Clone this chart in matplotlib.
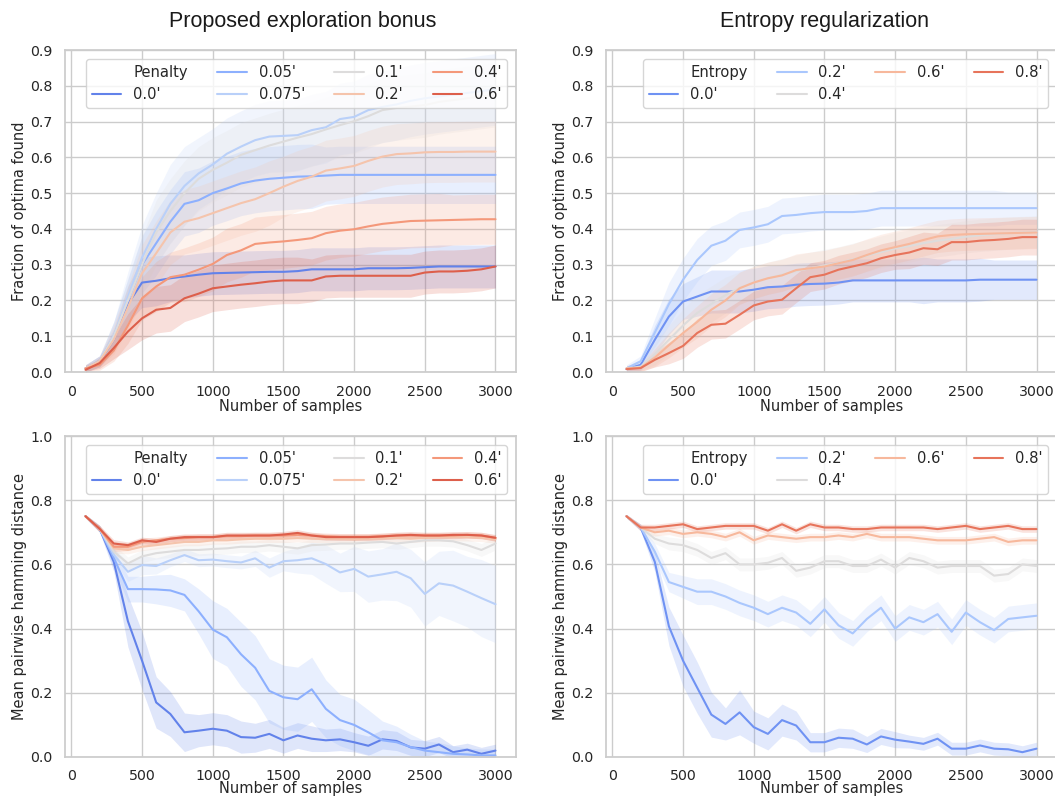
import matplotlib
matplotlib.use("Agg")
import matplotlib.pyplot as plt
import seaborn as sns
from matplotlib.lines import Line2D

sns.set_theme(style="whitegrid")
plt.rcParams['font.family'] = ['DejaVu Sans']

# sample counts on the x axis
samples = [100, 200, 300, 400, 500, 600, 700, 800, 900, 1000,
           1100, 1200, 1300, 1400, 1500, 1600, 1700, 1800, 1900, 2000,
           2100, 2200, 2300, 2400, 2500, 2600, 2700, 2800, 2900, 3000]

penalty_labels = ["0.0'", "0.05'", "0.075'", "0.1'", "0.2'", "0.4'", "0.6'"]
entropy_labels = ["0.0'", "0.2'", "0.4'", "0.6'", "0.8'"]

# ---- fraction of optima found, exploration bonus ----
frac_pen_00 = [.01, .03, .09, .19, .25, .255, .262, .267, .272, .276, .277, .278, .279, .28, .28,
               .282, .287, .287, .287, .287, .29, .29, .29, .291, .293, .295, .295, .295, .295, .295]
frac_pen_05 = [.01, .03, .1, .2, .3, .36, .42, .47, .48, .5, .513, .527, .535, .54, .543,
               .546, .547, .549, .551, .551, .551, .551, .551, .551, .551, .551, .551, .551, .551, .551]
frac_pen_075 = [.01, .03, .1, .21, .32, .4, .47, .52, .555, .58, .61, .63, .648, .658, .66,
                .662, .676, .684, .707, .713, .732, .741, .748, .758, .765, .77, .775, .78, .785, .79]
frac_pen_10 = [.01, .03, .1, .2, .3, .39, .45, .5, .54, .565, .585, .607, .62, .633, .644,
               .655, .665, .678, .69, .701, .715, .732, .738, .742, .746, .755, .76, .765, .77, .775]
frac_pen_20 = [.01, .03, .09, .18, .276, .332, .39, .42, .43, .444, .458, .472, .483, .5, .518,
               .534, .546, .563, .569, .576, .59, .602, .609, .611, .614, .615, .615, .616, .616, .616]
frac_pen_40 = [.01, .02, .06, .13, .206, .239, .265, .272, .286, .302, .327, .34, .358, .362, .365,
               .369, .374, .388, .395, .399, .407, .414, .418, .422, .423, .424, .425, .426, .427, .427]
frac_pen_60 = [.006, .025, .067, .113, .15, .174, .179, .206, .219, .234, .239, .244, .248, .253, .256,
               .256, .256, .267, .269, .269, .269, .269, .269, .269, .278, .281, .281, .283, .287, .295]

frac_pen_00_err = [.01, .015, .03, .05, .07, .07, .065, .06, .06, .06, .06, .06, .06, .06, .06,
                   .06, .06, .06, .06, .06, .06, .06, .06, .06, .06, .06, .06, .06, .06, .06]
frac_pen_05_err = [.01, .015, .04, .06, .08, .09, .09, .09, .09, .09, .09, .09, .09, .09, .09,
                   .09, .09, .08, .08, .08, .08, .08, .08, .08, .08, .08, .08, .08, .08, .08]
frac_pen_075_err = [.01, .015, .04, .07, .09, .1, .11, .11, .1, .1, .1, .1, .1, .1, .1,
                    .1, .1, .1, .1, .1, .1, .1, .1, .1, .1, .1, .1, .1, .1, .1]
frac_pen_10_err = [.01, .015, .04, .06, .08, .09, .09, .09, .09, .09, .09, .09, .09, .09, .09,
                   .09, .09, .09, .09, .09, .09, .09, .09, .09, .09, .09, .09, .09, .09, .09]
frac_pen_20_err = [.01, .015, .04, .06, .08, .09, .09, .09, .09, .09, .09, .09, .09, .09, .085,
                   .085, .085, .085, .085, .085, .085, .085, .085, .085, .085, .085, .085, .085, .085, .085]
frac_pen_40_err = [.01, .015, .03, .05, .06, .07, .07, .075, .075, .075, .075, .075, .075, .075, .075,
                   .075, .075, .075, .075, .075, .075, .075, .075, .075, .075, .075, .07, .07, .07, .07]
frac_pen_60_err = [.005, .015, .03, .05, .06, .065, .065, .065, .065, .065, .065, .065, .065, .065, .065,
                   .065, .06, .06, .06, .06, .06, .06, .06, .06, .06, .06, .06, .06, .06, .06]

# ---- fraction of optima found, entropy regularization ----
frac_ent_00 = [.008, .02, .09, .155, .197, .211, .225, .225, .225, .23, .237, .239, .244, .246, .247,
               .25, .256, .256, .256, .256, .256, .256, .256, .256, .256, .258, .258, .258, .258, .258]
frac_ent_20 = [.01, .03, .11, .19, .258, .313, .353, .367, .397, .404, .413, .436, .439, .444, .447,
               .447, .447, .45, .458, .458, .458, .458, .458, .458, .458, .458, .458, .458, .458, .458]
frac_ent_40 = [.01, .015, .05, .09, .13, .165, .19, .215, .235, .25, .262, .272, .282, .29, .298,
               .305, .315, .325, .335, .345, .352, .36, .367, .372, .378, .382, .385, .388, .39, .392]
frac_ent_60 = [.01, .012, .04, .075, .109, .14, .174, .2, .234, .25, .262, .27, .285, .29, .295,
               .304, .313, .327, .34, .349, .358, .369, .379, .383, .385, .386, .387, .388, .389, .39]
frac_ent_80 = [.008, .011, .034, .053, .073, .109, .132, .135, .16, .186, .197, .202, .234, .265, .272,
               .286, .295, .304, .318, .327, .334, .346, .343, .363, .363, .367, .369, .372, .377, .377]

frac_ent_00_err = [.008, .015, .04, .05, .05, .055, .06, .06, .06, .06, .06, .06, .06, .06, .06,
                   .06, .06, .06, .06, .06, .06, .065, .06, .06, .06, .06, .055, .055, .055, .055]
frac_ent_20_err = [.01, .015, .04, .06, .06, .06, .055, .055, .05, .05, .05, .05, .05, .05, .05,
                   .05, .05, .05, .05, .05, .05, .05, .05, .05, .05, .05, .05, .045, .045, .045]
frac_ent_40_err = [.008, .01, .03, .04, .045, .05, .05, .05, .045, .045, .045, .045, .045, .045, .045,
                   .045, .045, .045, .045, .045, .045, .045, .045, .045, .045, .045, .045, .045, .045, .045]
frac_ent_60_err = [.008, .01, .025, .035, .04, .045, .045, .045, .045, .045, .045, .045, .045, .045, .045,
                   .045, .045, .045, .045, .045, .045, .045, .045, .045, .045, .045, .045, .045, .045, .045]
frac_ent_80_err = [.008, .01, .02, .03, .035, .04, .04, .04, .04, .04, .04, .04, .04, .04, .04,
                   .04, .04, .04, .04, .04, .045, .045, .045, .05, .05, .05, .05, .05, .05, .05]

# ---- mean pairwise hamming distance, exploration bonus ----
ham_pen_00 = [.75, .711, .608, .423, .3, .17, .134, .077, .082, .088, .082, .062, .06, .072, .052,
              .067, .057, .052, .055, .046, .035, .055, .05, .03, .026, .039, .015, .023, .01, .02]
ham_pen_05 = [.75, .711, .62, .523, .523, .522, .519, .505, .454, .397, .373, .32, .278, .206, .186,
              .18, .211, .15, .115, .1, .077, .052, .046, .031, .02, .015, .01, .008, .005, .005]
ham_pen_075 = [.75, .711, .63, .577, .598, .595, .613, .629, .613, .615, .61, .606, .619, .59, .61,
               .613, .619, .601, .575, .586, .562, .569, .577, .557, .508, .541, .534, .515, .495, .476]
ham_pen_10 = [.75, .711, .64, .603, .625, .635, .64, .645, .645, .648, .65, .655, .655, .66, .655,
              .65, .66, .662, .665, .665, .668, .67, .665, .67, .675, .675, .672, .66, .645, .665]
ham_pen_20 = [.75, .711, .65, .645, .655, .66, .665, .67, .67, .675, .675, .678, .68, .68, .68,
              .682, .68, .68, .68, .678, .68, .682, .682, .68, .683, .685, .685, .685, .683, .678]
ham_pen_40 = [.75, .711, .655, .655, .67, .675, .68, .682, .685, .685, .688, .688, .69, .69, .69,
              .692, .69, .688, .686, .686, .686, .688, .69, .69, .69, .69, .69, .692, .69, .682]
ham_pen_60 = [.75, .711, .665, .66, .675, .67, .68, .685, .685, .685, .69, .69, .69, .69, .693,
              .698, .69, .685, .685, .685, .685, .687, .69, .692, .69, .69, .692, .692, .69, .683]

ham_pen_00_err = [.005, .01, .03, .08, .09, .08, .07, .06, .05, .05, .05, .05, .045, .045, .04,
                  .04, .04, .035, .035, .03, .03, .03, .03, .025, .025, .025, .02, .02, .02, .02]
ham_pen_05_err = [.005, .01, .03, .04, .04, .045, .05, .05, .07, .09, .09, .1, .1, .1, .1,
                  .1, .1, .09, .08, .08, .07, .06, .05, .04, .03, .03, .025, .02, .02, .02]
ham_pen_075_err = [.005, .01, .02, .03, .03, .025, .02, .02, .02, .02, .02, .02, .025, .03, .03,
                   .04, .05, .06, .06, .07, .08, .08, .09, .09, .1, .1, .11, .11, .12, .12]
ham_pen_10_err = [.005, .01, .02, .02, .02, .018, .018, .018, .018, .018, .018, .018, .018, .018, .018,
                  .018, .018, .018, .018, .018, .018, .018, .018, .018, .018, .018, .018, .018, .02, .02]
ham_pen_20_err = [.005, .01, .015, .012, .012, .012, .012, .012, .012, .012, .012, .012, .012, .012, .012,
                  .012, .012, .012, .012, .012, .012, .012, .012, .012, .012, .012, .012, .012, .012, .012]
ham_pen_40_err = [.005, .01, .015, .012, .012, .01, .01, .01, .01, .01, .01, .01, .01, .01, .01,
                  .01, .01, .01, .01, .01, .01, .01, .01, .01, .01, .01, .01, .01, .01, .01]
ham_pen_60_err = [.005, .01, .012, .01, .01, .01, .01, .01, .01, .01, .01, .01, .01, .01, .01,
                  .01, .01, .01, .01, .01, .01, .01, .01, .01, .01, .01, .01, .01, .01, .01]

# ---- mean pairwise hamming distance, entropy regularization ----
ham_ent_00 = [.75, .715, .608, .407, .3, .216, .132, .103, .139, .093, .072, .115, .098, .046, .046,
              .06, .057, .039, .064, .054, .048, .041, .057, .026, .026, .036, .026, .024, .015, .026]
ham_ent_20 = [.75, .715, .64, .545, .53, .515, .515, .5, .48, .465, .445, .465, .45, .415, .46,
              .41, .385, .43, .465, .4, .435, .42, .445, .39, .45, .42, .395, .43, .435, .44]
ham_ent_40 = [.75, .715, .68, .665, .66, .645, .62, .635, .6, .6, .605, .62, .58, .59, .61,
              .61, .595, .595, .615, .59, .62, .61, .59, .595, .595, .595, .565, .57, .6, .595]
ham_ent_60 = [.75, .715, .7, .705, .695, .7, .695, .685, .7, .675, .69, .685, .68, .685, .685,
              .69, .685, .695, .685, .685, .685, .68, .675, .675, .675, .68, .685, .67, .675, .675]
ham_ent_80 = [.75, .715, .715, .72, .725, .71, .715, .72, .72, .72, .705, .725, .705, .725, .715,
              .715, .71, .71, .715, .715, .715, .715, .71, .715, .72, .71, .715, .72, .71, .71]

ham_ent_00_err = [.005, .01, .03, .06, .08, .08, .07, .05, .07, .05, .05, .05, .045, .03, .03,
                  .03, .03, .025, .025, .025, .02, .02, .02, .02, .02, .02, .02, .02, .02, .02]
ham_ent_20_err = [.005, .01, .025, .03, .035, .04, .04, .04, .04, .04, .04, .04, .04, .04, .04,
                  .04, .04, .04, .04, .04, .04, .04, .04, .04, .04, .04, .04, .04, .04, .04]
ham_ent_40_err = [.005, .01, .015, .02, .02, .02, .02, .02, .02, .02, .02, .02, .02, .02, .02,
                  .02, .02, .02, .02, .02, .02, .02, .02, .02, .02, .02, .02, .02, .02, .02]
ham_ent_60_err = [.005, .01, .012, .012, .012, .012, .012, .012, .012, .012, .012, .012, .012, .012, .012,
                  .012, .012, .012, .012, .012, .012, .012, .012, .012, .012, .012, .012, .012, .012, .012]
ham_ent_80_err = [.005, .01, .01, .01, .01, .01, .01, .01, .01, .01, .01, .01, .01, .01, .01,
                  .01, .01, .01, .01, .01, .01, .01, .01, .01, .01, .01, .01, .01, .01, .01]


def draw_panel(ax, means, errs, labels, legend_title, ylabel, ymax, yticks, xpad=0):
    colors = sns.color_palette("coolwarm", len(means))
    handles = [Line2D([], [], linestyle='none', visible=False)]
    for mean, err, col in zip(means, errs, colors):
        lo = [m - e for m, e in zip(mean, err)]
        hi = [m + e for m, e in zip(mean, err)]
        ax.fill_between(samples, lo, hi, color=col, alpha=0.2, linewidth=0)
        line, = ax.plot(samples, mean, color=col, lw=1.5)
        handles.append(line)
    ax.set_ylim(0, ymax)
    ax.set_yticks(yticks)
    ax.set_xticks([0, 500, 1000, 1500, 2000, 2500, 3000])
    ax.tick_params(labelsize=10.2, pad=3)
    ax.set_xlabel("Number of samples", fontsize=10.5, labelpad=xpad)
    ax.set_ylabel(ylabel, fontsize=10.5, labelpad=2)
    ax.legend(handles, [legend_title] + labels, ncol=4, loc='upper right',
              fontsize=10.6, borderaxespad=0.6)


fig = plt.figure(figsize=(10.55, 7.98), dpi=100)
W, H = 1055, 798
ax_tl = fig.add_axes([65 / W, 1 - 372 / H, 451 / W, 322 / H])
ax_tr = fig.add_axes([606 / W, 1 - 372 / H, 451 / W, 322 / H])
ax_bl = fig.add_axes([65 / W, 1 - 757 / H, 451 / W, 321 / H])
ax_br = fig.add_axes([606 / W, 1 - 757 / H, 451 / W, 321 / H])

frac_ticks = [0.0, 0.1, 0.2, 0.3, 0.4, 0.5, 0.6, 0.7, 0.8, 0.9]
ham_ticks = [0.0, 0.2, 0.4, 0.6, 0.8, 1.0]

draw_panel(ax_tl,
           [frac_pen_00, frac_pen_05, frac_pen_075, frac_pen_10, frac_pen_20, frac_pen_40, frac_pen_60],
           [frac_pen_00_err, frac_pen_05_err, frac_pen_075_err, frac_pen_10_err,
            frac_pen_20_err, frac_pen_40_err, frac_pen_60_err],
           penalty_labels, "Penalty", "Fraction of optima found", 0.9, frac_ticks)
draw_panel(ax_tr,
           [frac_ent_00, frac_ent_20, frac_ent_40, frac_ent_60, frac_ent_80],
           [frac_ent_00_err, frac_ent_20_err, frac_ent_40_err, frac_ent_60_err, frac_ent_80_err],
           entropy_labels, "Entropy", "Fraction of optima found", 0.9, frac_ticks)
draw_panel(ax_bl,
           [ham_pen_00, ham_pen_05, ham_pen_075, ham_pen_10, ham_pen_20, ham_pen_40, ham_pen_60],
           [ham_pen_00_err, ham_pen_05_err, ham_pen_075_err, ham_pen_10_err,
            ham_pen_20_err, ham_pen_40_err, ham_pen_60_err],
           penalty_labels, "Penalty", "Mean pairwise hamming distance", 1.0, ham_ticks, xpad=-1.5)
draw_panel(ax_br,
           [ham_ent_00, ham_ent_20, ham_ent_40, ham_ent_60, ham_ent_80],
           [ham_ent_00_err, ham_ent_20_err, ham_ent_40_err, ham_ent_60_err, ham_ent_80_err],
           entropy_labels, "Entropy", "Mean pairwise hamming distance", 1.0, ham_ticks, xpad=-1.5)

fig.text(303 / W, 1 - 21 / H, "Proposed exploration bonus", ha='center', va='center',
         fontsize=15.5, family='Liberation Sans', color='.1')
fig.text(825 / W, 1 - 21 / H, "Entropy regularization", ha='center', va='center',
         fontsize=15.5, family='Liberation Sans', color='.1')

fig.savefig("out.png", dpi=100)
